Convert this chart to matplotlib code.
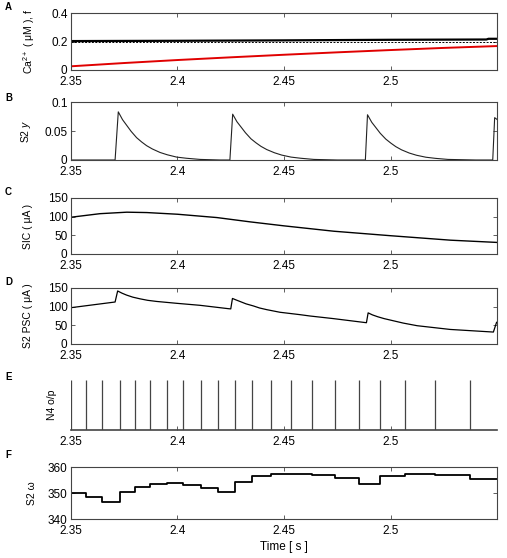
import numpy as np
import matplotlib.pyplot as plt

plt.rcParams['font.family'] = ['Liberation Sans', 'DejaVu Sans']
plt.rcParams['mathtext.fontset'] = 'custom'
plt.rcParams['mathtext.rm'] = 'Liberation Sans'
plt.rcParams['mathtext.it'] = 'Liberation Sans:italic'

# A: Ca2+ (red), f (black), threshold (dashed)
t_ca = [2.35, 2.375, 2.40, 2.425, 2.45, 2.475, 2.50, 2.525, 2.55]
ca = [0.026, 0.049, 0.070, 0.089, 0.107, 0.124, 0.140, 0.155, 0.168]
t_f = [2.35, 2.40, 2.45, 2.50, 2.545, 2.546, 2.55]
f = [0.203, 0.205, 0.208, 0.212, 0.214, 0.219, 0.219]
thr = 0.2

# B: S2 y
t_y = [2.35, 2.3707, 2.3722, 2.3742, 2.3761, 2.3782, 2.3808, 2.3832, 2.3855, 2.3882,
       2.3918, 2.3952, 2.3996, 2.4042, 2.4106, 2.4200,
       2.4246, 2.4259, 2.4279, 2.4298, 2.4319, 2.4345, 2.4369, 2.4392, 2.4419,
       2.4455, 2.4489, 2.4533, 2.4579, 2.4640, 2.4750,
       2.4882, 2.4892, 2.4912, 2.4931, 2.4952, 2.4978, 2.5002, 2.5025, 2.5052,
       2.5088, 2.5122, 2.5166, 2.5212, 2.5270, 2.5400,
       2.5480, 2.5489, 2.5500]
y = [0, 0, 0.083, 0.0695, 0.060, 0.0495, 0.0385, 0.031, 0.0247, 0.019,
     0.013, 0.009, 0.005, 0.003, 0.001, 0,
     0, 0.079, 0.066, 0.057, 0.047, 0.0365, 0.0295, 0.0235, 0.018,
     0.0125, 0.0085, 0.005, 0.003, 0.001, 0,
     0, 0.078, 0.065, 0.056, 0.046, 0.036, 0.029, 0.023, 0.0175,
     0.012, 0.0082, 0.0048, 0.0028, 0.001, 0,
     0, 0.073, 0.070]

# C: SIC
t_sic = [2.35, 2.3636, 2.3762, 2.3856, 2.40, 2.4185, 2.4342, 2.45, 2.4734, 2.50, 2.5282, 2.55]
sic = [98.5, 108, 112, 111, 106.5, 97.6, 86, 75.4, 61, 49, 37, 31]

# D: S2 PSC
t_psc = [2.35, 2.3707, 2.3719, 2.3740, 2.3761, 2.3790, 2.3824, 2.3860, 2.3902, 2.3996,
         2.4106, 2.4239,
         2.4250, 2.4258, 2.4275, 2.4293, 2.4322, 2.4356, 2.4385, 2.4419, 2.4481, 2.4575,
         2.4622, 2.4732, 2.4887,
         2.4895, 2.4915, 2.4940, 2.4970, 2.50, 2.5060, 2.5125, 2.528, 2.5483, 2.5498]
psc = [97.3, 112.5, 142, 136, 131, 125.5, 121, 117, 114, 109,
       103.6, 94.6,
       94, 122, 118, 114, 107.5, 102, 96.5, 92, 85, 78.6,
       75, 68, 57,
       83.4, 78, 73, 68, 64, 56, 49, 39, 32, 58]

# E: N4 output spikes
spikes = [2.3500, 2.3571, 2.3647, 2.3730, 2.3799, 2.3870, 2.3950, 2.4027, 2.4110,
          2.4188, 2.4270, 2.4350, 2.4439, 2.4531, 2.4630, 2.4741, 2.4851, 2.4951,
          2.5070, 2.5211, 2.5371]

# F: S2 omega (level after each spike)
omega = [350.0, 348.6, 346.6, 350.3, 352.5, 353.5, 353.8, 353.2, 351.9, 350.4,
         354.2, 356.4, 357.3, 357.2, 356.8, 355.6, 353.5, 356.6, 357.2, 356.9, 355.5]

xt = [2.35, 2.4, 2.45, 2.5]
xtl = ['2.35', '2.4', '2.45', '2.5']

fig = plt.figure(figsize=(5.07, 5.58), dpi=100)
W, H = 507, 558
L, R = 71, 497
spine_c = '#444444'


def make_ax(top, bottom):
    return fig.add_axes([L / W, 1 - bottom / H, (R - L) / W, (bottom - top) / H])


def style(ax, box=True):
    ax.set_xlim(2.35, 2.55)
    ax.set_xticks(xt)
    ax.set_xticklabels(xtl)
    ax.tick_params(direction='in', length=3, width=0.6, labelsize=8.5,
                   top=box, right=box, color=spine_c)
    ax.tick_params(axis='x', pad=4.5)
    ax.tick_params(axis='y', pad=2.5)
    for s in ax.spines.values():
        s.set_color(spine_c)
        s.set_linewidth(0.8)


axA = make_ax(13, 70)
axA.plot(t_ca, ca, color='#e00000', lw=1.4)
axA.plot(t_f, f, color='black', lw=1.6)
axA.axhline(thr, color='black', lw=0.7, ls=(0, (2, 1.5)))
axA.set_ylim(0, 0.4)
axA.set_yticks([0, 0.2, 0.4])
axA.set_yticklabels(['0', '0.2', '0.4'])
style(axA)
axA.set_ylabel('Ca$^{2+}$ ( μM ), f', fontsize=7.5)
axA.yaxis.set_label_coords(-0.08, 0.5)

axB = make_ax(102, 160)
axB.plot(t_y, y, color='#222222', lw=0.8)
axB.set_ylim(0, 0.1)
axB.set_yticks([0, 0.05, 0.1])
axB.set_yticklabels(['0', '0.05', '0.1'])
style(axB)
axB.set_ylabel('S2 $y$', fontsize=7.5)
axB.yaxis.set_label_coords(-0.09, 0.5)

axC = make_ax(198, 254)
axC.plot(t_sic, sic, color='black', lw=1.0)
axC.set_ylim(0, 150)
axC.set_yticks([0, 50, 100, 150])
style(axC)
axC.set_ylabel('SIC ( μA )', fontsize=7.5)
axC.yaxis.set_label_coords(-0.09, 0.5)

axD = make_ax(288, 344)
axD.plot(t_psc, psc, color='black', lw=0.9)
axD.set_ylim(0, 150)
axD.set_yticks([0, 50, 100, 150])
style(axD)
axD.set_ylabel('S2 PSC ( μA )', fontsize=7.5)
axD.yaxis.set_label_coords(-0.09, 0.5)

axE = make_ax(380, 430)
axE.vlines(spikes, 0, 1, color='#444444', lw=0.9)
axE.set_ylim(0, 1)
axE.set_yticks([])
style(axE, box=False)
for s in ['top', 'right', 'left']:
    axE.spines[s].set_visible(False)
axE.spines['bottom'].set_linewidth(1.2)
axE.set_ylabel('N4 o/p', fontsize=7.5)
axE.yaxis.set_label_coords(-0.033, 0.5)

axF = make_ax(467, 519)
axF.plot(spikes + [2.55], omega + [omega[-1]], drawstyle='steps-post', color='black', lw=1.3)
axF.set_ylim(340, 360)
axF.set_yticks([340, 350, 360])
style(axF)
axF.set_ylabel('S2 ω', fontsize=7.5)
axF.yaxis.set_label_coords(-0.08, 0.5)
axF.set_xlabel('Time [ s ]', fontsize=8.5, labelpad=3)

for letter, ypix in zip('ABCDEF', [7, 98, 192, 282, 377, 455]):
    fig.text(5 / W, 1 - ypix / H, letter, fontsize=7, fontweight='bold', ha='left', va='center')

fig.savefig('out.png', dpi=100)
